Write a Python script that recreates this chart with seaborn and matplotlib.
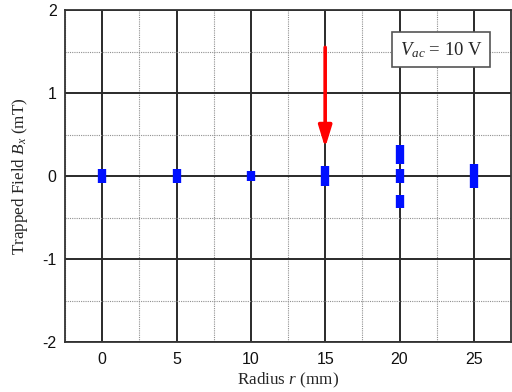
import matplotlib
matplotlib.use("Agg")
import matplotlib.pyplot as plt
import seaborn as sns
import pandas as pd
from matplotlib.ticker import MultipleLocator

# data
radius = [0, 5, 10, 15, 20, 20, 20, 25]
field = [0.0, 0.0, 0.0, 0.0, 0.26, 0.0, -0.31, 0.0]
half_range = [0.09, 0.09, 0.065, 0.115, 0.115, 0.09, 0.08, 0.14]
x_ticks = [0, 5, 10, 15, 20, 25]
y_ticks = [-2, -1, 0, 1, 2]
arrow_x = 15
arrow_from = 1.55
arrow_to = 0.34
label_text = r"$V_{ac}$ = 10 V"

sns.set_style("white")
plt.rcParams["font.family"] = ["Liberation Sans", "DejaVu Sans"]
plt.rcParams["axes.unicode_minus"] = False
plt.rcParams["mathtext.fontset"] = "custom"
plt.rcParams["mathtext.rm"] = "Liberation Serif"
plt.rcParams["mathtext.it"] = "Liberation Serif:italic"

df = pd.DataFrame({"r": radius, "B": field, "e": half_range})

fig = plt.figure(figsize=(5.12, 3.92), dpi=100)
ax = fig.add_axes([65 / 512, 50 / 392, 446 / 512, 332 / 392])

ax.set_xlim(-2.5, 27.5)
ax.set_ylim(-2, 2)
ax.xaxis.set_minor_locator(MultipleLocator(2.5))
ax.yaxis.set_minor_locator(MultipleLocator(0.5))
ax.set_xticks(x_ticks)
ax.set_yticks(y_ticks)
ax.set_xticklabels([str(t) for t in x_ticks])
ax.set_yticklabels([str(t) for t in y_ticks])

ax.grid(True, which="major", color="#2a2a2a", linewidth=1.4, linestyle="-")
ax.grid(True, which="minor", color="#909090", linewidth=0.8, linestyle=(0, (1, 1)))
ax.set_axisbelow(True)

for s in ax.spines.values():
    s.set_color("#333333")
    s.set_linewidth(1.3)

ax.tick_params(axis="both", which="both", direction="in", length=4,
               color="#333333", labelsize=11.5, labelcolor="#111111")
ax.tick_params(axis="x", pad=7)
ax.tick_params(axis="y", pad=6)

ax.errorbar(df["r"], df["B"], yerr=df["e"], fmt="none", ecolor="#0010ff",
            elinewidth=6, capsize=0, zorder=5)
sns.scatterplot(data=df, x="r", y="B", ax=ax, color="#0010ff", marker="s",
                s=12, linewidth=0, zorder=6, legend=False)

ax.annotate("", xy=(arrow_x, arrow_to), xytext=(arrow_x, arrow_from),
            arrowprops=dict(arrowstyle="-|>,head_length=1.3,head_width=0.4",
                            color="#ff0000", lw=2.6, shrinkA=0, shrinkB=0),
            zorder=7)

ax.text(22.8, 1.52, label_text, ha="center", va="center", fontsize=13.5,
        family="Liberation Serif",
        bbox=dict(boxstyle="square,pad=0.4", facecolor="white",
                  edgecolor="#555555", linewidth=1.2), zorder=8)

ax.set_xlabel(r"Radius $r$ (mm)", family="Liberation Serif", fontsize=12.3,
              labelpad=3)
ax.set_ylabel(r"Trapped Field $B_x$ (mT)", family="Liberation Serif",
              fontsize=12.3, labelpad=9)

fig.savefig("out.png", dpi=100)
